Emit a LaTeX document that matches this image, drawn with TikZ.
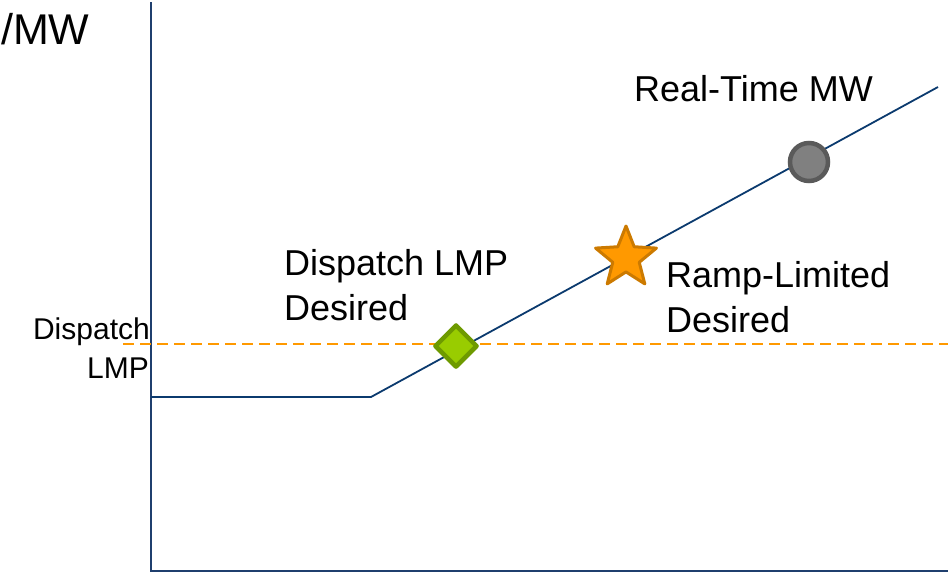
\documentclass[tikz,border=0pt]{standalone}
\usepackage{fontspec}
\setmainfont{Liberation Sans}
\usetikzlibrary{shapes.geometric}
\definecolor{axisblue}{HTML}{1F3F6E}
\definecolor{curveblue}{HTML}{0B3A6E}
\definecolor{dashorange}{HTML}{FF9900}
\definecolor{dfill}{HTML}{99CC00}
\definecolor{dborder}{HTML}{6E9A00}
\definecolor{sfill}{HTML}{FF9900}
\definecolor{sborder}{HTML}{CC7A00}
\definecolor{cfill}{HTML}{808080}
\definecolor{cborder}{HTML}{5A5A5A}
\tikzset{
  axisline/.style={draw=axisblue, line width=2.4pt},
  curveline/.style={draw=curveblue, line width=1.8pt},
  lmpline/.style={draw=dashorange, line width=1.8pt, dash pattern=on 11pt off 6pt},
  biglabel/.style={inner sep=0pt, font=\fontsize{36}{45}\selectfont, align=left},
  smalllabel/.style={inner sep=0pt, font=\fontsize{30}{38}\selectfont, align=right},
  diamondmark/.style={diamond, draw=dborder, fill=dfill, line width=4.5pt, line join=round, inner sep=0pt, minimum width=43pt, minimum height=43pt},
  starmark/.style={star, star points=5, star point ratio=2.3, draw=sborder, fill=sfill, line width=3pt, line join=round, inner sep=0pt, minimum size=64pt},
  circlemark/.style={circle, draw=cborder, fill=cfill, line width=4.5pt, inner sep=0pt, minimum size=38pt}
}
\begin{document}
\begin{tikzpicture}[x=1pt,y=-1pt]
\useasboundingbox (0,0) rectangle (948,576);
% axes
\coordinate (otop) at (151,2);
\coordinate (orig) at (151,571);
\coordinate (xend) at (948,571);
\draw[axisline] (otop) -- (orig) -- (xend);
% dispatch LMP dashed line
\coordinate (lmpL) at (123,344);
\coordinate (lmpR) at (948,344);
\draw[lmpline] (lmpL) -- (lmpR);
% offer curve
\coordinate (c0) at (151,397);
\coordinate (c1) at (371,397);
\coordinate (c2) at (938,87);
\draw[curveline, line join=miter] (c0) -- (c1) -- (c2);
% markers
\node[diamondmark] (dmark) at (456,346) {};
\node[starmark] (smark) at (626,258) {};
\node[circlemark] (cmark) at (809,162) {};
% labels
\node[inner sep=0pt, font=\fontsize{43}{50}\selectfont, anchor=base west] (ylab) at (1,44) {/MW};
\node[biglabel, anchor=base west] (rtlab) at (634,101) {Real-Time MW};
\node[biglabel, anchor=base west] (dlab1) at (284,275) {Dispatch LMP};
\node[biglabel, anchor=base west] (dlab2) at (284,320) {Desired};
\node[biglabel, anchor=base west] (rlab1) at (666,287) {Ramp-Limited};
\node[biglabel, anchor=base west] (rlab2) at (666,332) {Desired};
\node[smalllabel, anchor=base east] (lmplab1) at (150,339) {Dispatch};
\node[smalllabel, anchor=base east] (lmplab2) at (149,378) {LMP};
\end{tikzpicture}
\end{document}
